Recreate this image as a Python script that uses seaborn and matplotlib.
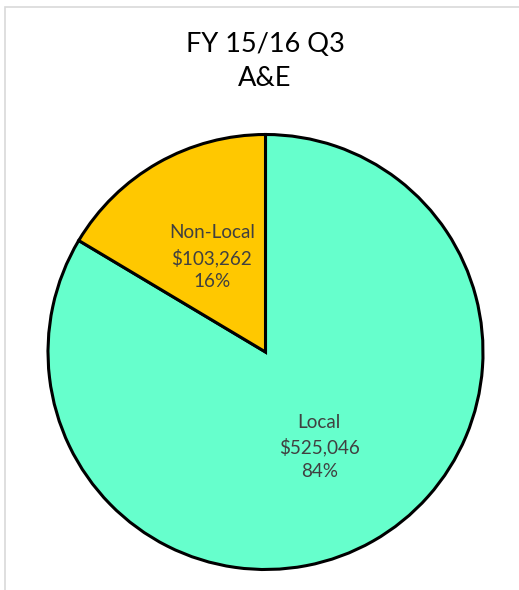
import matplotlib
matplotlib.use("Agg")
import matplotlib.pyplot as plt
import matplotlib.patches as mpatches
import seaborn as sns
import numpy as np

categories = ["Local", "Non-Local"]
values = [525046, 103262]
colors = ["#66FFCC", "#FFC800"]
title_lines = ["FY 15/16 Q3", "A&E"]

sns.set_theme(style="white")
plt.rcParams['font.family'] = ['Lato', 'DejaVu Sans']

W, H = 519, 590
fig = plt.figure(figsize=(W / 100, H / 100), dpi=100)
fig.patch.set_facecolor("white")

# light gray chart frame
fig.add_artist(mpatches.Rectangle((5 / W, -0.1), 1.2, (H - 7) / H + 0.1,
                                  transform=fig.transFigure, fill=False,
                                  edgecolor="#d9d9d9", linewidth=1.2))

ax = fig.add_axes([0, 0, 1, 1])
cx, cy, r = 265.5, H - 352, 217.5
wedges, _ = ax.pie(values, colors=colors, startangle=90, counterclock=False,
                   center=(cx, cy), radius=r,
                   wedgeprops=dict(edgecolor="black", linewidth=2.2))
ax.set_xlim(0, W)
ax.set_ylim(0, H)
ax.set_aspect("equal")
ax.axis("off")

total = sum(values)
for w, name, v in zip(wedges, categories, values):
    ang = np.deg2rad((w.theta1 + w.theta2) / 2)
    x = cx + 0.5 * r * np.cos(ang)
    y = cy + 0.5 * r * np.sin(ang)
    ax.text(x, y, f"{name}\n${v:,.0f}\n{100 * v / total:.0f}%",
            ha="center", va="center", fontsize=13.6, color="#404040",
            linespacing=1.45)

fig.text(265 / W, 1 - 62 / H, "\n".join(title_lines), ha="center", va="center",
         fontsize=19.5, color="#000000", linespacing=1.45)

fig.savefig("out.png", dpi=100)
